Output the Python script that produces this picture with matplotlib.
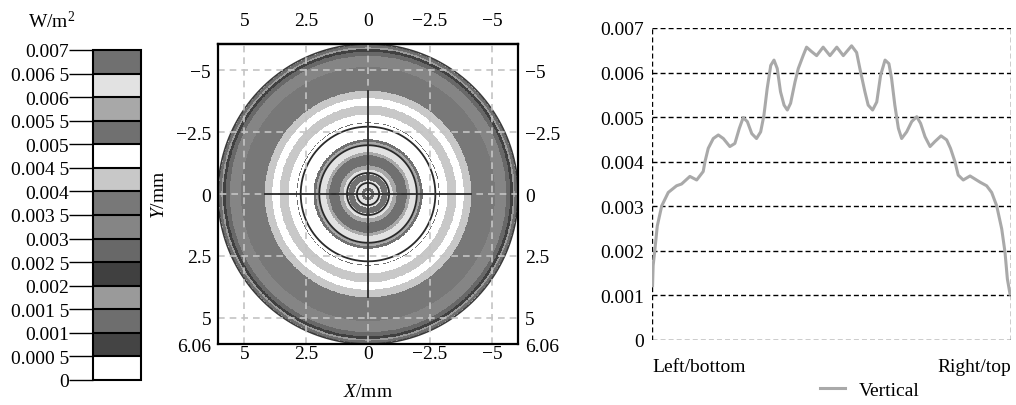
import numpy as np
import matplotlib
matplotlib.use('Agg')
import matplotlib.pyplot as plt
from matplotlib.colors import ListedColormap, BoundaryNorm
from matplotlib.cm import ScalarMappable

plt.rcParams['font.family'] = ['Liberation Serif', 'DejaVu Serif']
plt.rcParams['mathtext.fontset'] = 'custom'
plt.rcParams['mathtext.rm'] = 'Liberation Serif'
plt.rcParams['mathtext.it'] = 'Liberation Serif:italic'

# colour scale (W/m2), bottom to top
levels = [0, 0.0005, 0.001, 0.0015, 0.002, 0.0025, 0.003, 0.0035,
          0.004, 0.0045, 0.005, 0.0055, 0.006, 0.0065, 0.007]
level_labels = ['0', '0.000 5', '0.001', '0.001 5', '0.002', '0.002 5', '0.003',
                '0.003 5', '0.004', '0.004 5', '0.005', '0.005 5', '0.006',
                '0.006 5', '0.007']
band_colors = ['#ffffff', '#444444', '#6e6e6e', '#9a9a9a', '#404040', '#686868',
               '#858585', '#787878', '#c8c8c8', '#ffffff', '#707070', '#a8a8a8',
               '#e2e2e2', '#707070']

# vertical profile through the spot (position in mm, irradiance in 1e-3 W/m2)
pos_mm = [-6.04, -6.02, -5.96, -5.88, -5.73, -5.51, -5.23, -5.06, -4.78, -4.55,
          -4.33, -4.27, -4.16, -3.99, -3.82, -3.65, -3.43, -3.26, -3.11, -2.98,
          -2.84, -2.69, -2.53, -2.39, -2.28, -2.17, -2.05, -1.94, -1.83, -1.72,
          -1.60, -1.49, -1.38, -1.23, -1.12, -0.95, -0.84, -0.67, -0.50, -0.28,
          -0.05, 0.18, 0.40, 0.68, 0.85, 0.96, 1.13, 1.24, 1.39, 1.53,
          1.66, 1.81, 1.94, 2.03, 2.14, 2.26, 2.37, 2.54, 2.71, 2.88,
          3.01, 3.16, 3.33, 3.49, 3.70, 3.89, 4.02, 4.17, 4.28, 4.45,
          4.68, 5.02, 5.24, 5.41, 5.58, 5.75, 5.86, 5.94, 6.03]
irr_e3 = [1.22, 1.67, 2.04, 2.56, 3.01, 3.31, 3.46, 3.50, 3.67, 3.59,
          3.78, 4.00, 4.30, 4.52, 4.60, 4.52, 4.34, 4.41, 4.75, 4.99,
          4.90, 4.63, 4.52, 4.67, 5.04, 5.64, 6.16, 6.28, 6.09, 5.57,
          5.27, 5.16, 5.31, 5.79, 6.09, 6.39, 6.57, 6.47, 6.38, 6.57,
          6.38, 6.57, 6.38, 6.60, 6.45, 6.09, 5.57, 5.27, 5.16, 5.34,
          5.94, 6.28, 6.20, 5.87, 5.27, 4.75, 4.52, 4.67, 4.90, 5.01,
          4.86, 4.56, 4.34, 4.45, 4.58, 4.49, 4.30, 4.00, 3.70, 3.59,
          3.68, 3.54, 3.46, 3.31, 3.01, 2.49, 1.97, 1.37, 1.03]
irr = [v * 1e-3 for v in irr_e3]

# thin dark circles seen on the map (mm)
dark_rings = [0.45, 0.85, 1.97, 2.72]

map_ticks_x = [5, 2.5, 0, -2.5, -5]
map_xlabels = ['5', '2.5', '0', '\u22122.5', '\u22125']
map_ticks_y = [-5, -2.5, 0, 2.5, 5, 6.06]
map_ylabels = ['\u22125', '\u22122.5', '0', '2.5', '5', '6.06']
R = 6.06

FS = 14

fig = plt.figure(figsize=(10.16, 4.06), dpi=100)

# ---- colour bar ----
cmap = ListedColormap(band_colors)
norm = BoundaryNorm(levels, cmap.N)
cax = fig.add_axes([0.0915, 0.0616, 0.0477, 0.8128])
cb = fig.colorbar(ScalarMappable(norm=norm, cmap=cmap), cax=cax, ticks=levels,
                  drawedges=True)
cb.ax.yaxis.set_ticks_position('left')
cb.set_ticklabels(level_labels)
cb.outline.set_linewidth(1.5)
cb.dividers.set_linewidth(1.5)
cax.tick_params(length=17, width=1, pad=0, labelsize=FS)
fig.text(52 / 1016, 1 - 21 / 406, 'W/m$^2$', fontsize=FS, ha='center', va='center')

# ---- irradiance map ----
ax = fig.add_axes([0.2146, 0.1502, 0.2953, 0.739])
pos = np.array(pos_mm)
vals = np.array(irr)
half = pos >= -0.06
rad = np.abs(pos[half])
g = np.linspace(-R, R, 700)
gx, gy = np.meshgrid(g, g)
rr = np.hypot(gx, gy)
field = np.interp(rr, rad, vals[half], right=np.nan)
ax.pcolormesh(gx, gy, np.ma.masked_invalid(field), cmap=cmap, norm=norm,
              shading='auto', rasterized=True)
t = np.linspace(0, 2 * np.pi, 400)
for r in dark_rings:
    ax.plot(r * np.cos(t), r * np.sin(t), color='#2a2a2a', lw=1.3)
ax.plot(R * np.cos(t), R * np.sin(t), color='#3a3a3a', lw=1.2)
for v in [-5, -2.5, 2.5, 5]:
    ax.axvline(v, color='#c4c4c4', lw=1.2, ls=(0, (4, 3)))
    ax.axhline(v, color='#c4c4c4', lw=1.2, ls=(0, (4, 3)))
ax.plot([0, 0], [-R, R], color='#c4c4c4', lw=1.2, ls=(0, (4, 3)))
ax.plot([-R, R], [0, 0], color='#c4c4c4', lw=1.2, ls=(0, (4, 3)))
ax.plot([0, 0], [-4.15, 4.15], color='#2a2a2a', lw=1.3)
ax.plot([-4.15, 4.15], [0, 0], color='#2a2a2a', lw=1.3)
ax.set_xlim(R, -R)
ax.set_ylim(R, -R)
ax.set_xticks(map_ticks_x)
ax.set_xticklabels(map_xlabels)
ax.set_yticks(map_ticks_y)
ax.set_yticklabels(map_ylabels)
ax.tick_params(axis='x', length=0, pad=1, labelsize=FS)
ax.tick_params(axis='y', length=0, pad=5, labelsize=FS, right=True, labelright=True)
top = ax.secondary_xaxis('top')
top.set_xticks(map_ticks_x)
top.set_xticklabels(map_xlabels)
top.tick_params(length=0, pad=11, labelsize=FS)
for s in list(ax.spines.values()) + list(top.spines.values()):
    s.set_linewidth(1.6)
ax.set_xlabel('$\\it{X}$/mm', fontsize=FS, labelpad=15)
ax.set_ylabel('$\\it{Y}$/mm', fontsize=FS, labelpad=6)

# ---- vertical profile ----
ax2 = fig.add_axes([0.6417, 0.1601, 0.3533, 0.7685])
for s in ax2.spines.values():
    s.set_visible(False)
dash = (0, (3.6, 2.2))
for lv in np.arange(0, 0.0071, 0.001):
    ax2.axhline(lv, color='black', lw=1.0, ls=dash, zorder=1)
ax2.axvline(-R, color='black', lw=1.0, ls=dash, zorder=1)
ax2.axvline(R, color='black', lw=1.0, ls=dash, zorder=1)
ax2.plot(pos_mm, irr, color='#a9a9a9', lw=2.2, label='Vertical', zorder=2,
         solid_joinstyle='round')
ax2.set_xlim(-R, R)
ax2.set_ylim(0, 0.007)
ax2.set_xticks([])
ax2.set_yticks(np.arange(0, 0.0071, 0.001))
ax2.set_yticklabels(['0', '0.001', '0.002', '0.003', '0.004', '0.005', '0.006', '0.007'])
ax2.tick_params(length=0, pad=6, labelsize=FS)
ax2.text(0, -0.085, 'Left/bottom', transform=ax2.transAxes, ha='left', va='center', fontsize=FS)
ax2.text(1, -0.085, 'Right/top', transform=ax2.transAxes, ha='right', va='center', fontsize=FS)
ax2.legend(loc='center left', bbox_to_anchor=(0.44, -0.16), frameon=False,
           fontsize=FS, handlelength=1.3, handletextpad=0.7, borderpad=0)

fig.savefig('out.png', dpi=100)
